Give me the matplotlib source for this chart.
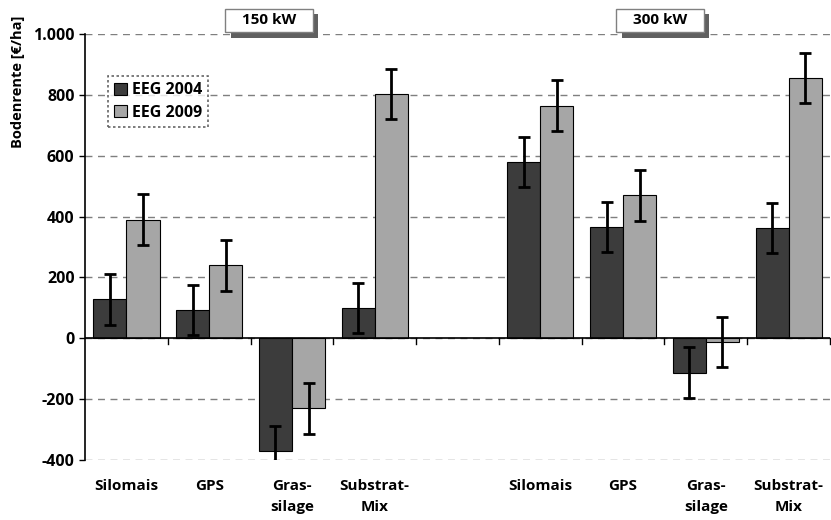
import matplotlib.pyplot as plt
from matplotlib.ticker import FuncFormatter, MultipleLocator
from matplotlib import patheffects as pe
import numpy as np

plt.rcParams['font.family'] = ['Open Sans', 'DejaVu Sans']
plt.rcParams['font.weight'] = 'bold'

categories = ["Silomais", "GPS", "Gras-\nsilage", "Substrat-\nMix"]
groups = ["150 kW", "300 kW"]
eeg2004 = [128, 93, -370, 100, 580, 365, -113, 362]
eeg2009 = [390, 240, -230, 803, 765, 470, -13, 855]
err2004 = [83, 83, 83, 83, 83, 83, 83, 83]
err2009 = [83, 83, 83, 83, 83, 83, 83, 83]

dark = '#3c3c3c'
light = '#a6a6a6'

fig = plt.figure(figsize=(8.31, 5.2), dpi=100)
ax = fig.add_axes([85 / 831, 1 - 460 / 520, 745 / 831, 426 / 520])

# 4 slots per group, one empty slot between the groups
slots = np.array([0, 1, 2, 3, 5, 6, 7, 8]) + 0.5
w = 0.4
ekw = dict(ecolor='black', elinewidth=2, capsize=4, capthick=2)
ax.bar(slots - w / 2, eeg2004, w, color=dark, edgecolor='black', linewidth=0.8,
       yerr=err2004, error_kw=ekw, label='EEG 2004', zorder=2)
ax.bar(slots + w / 2, eeg2009, w, color=light, edgecolor='black', linewidth=0.8,
       yerr=err2009, error_kw=ekw, label='EEG 2009', zorder=2)

ax.set_xlim(0, 9)
ax.set_ylim(-400, 1000)
ax.yaxis.set_major_locator(MultipleLocator(200))
ax.yaxis.set_major_formatter(FuncFormatter(lambda v, p: f"{int(v):,}".replace(",", ".")))
ax.yaxis.grid(True, color='#7f7f7f', linestyle=(0, (5, 4)), linewidth=1)
ax.set_axisbelow(True)
for s in ['top', 'right', 'bottom']:
    ax.spines[s].set_visible(False)
ax.spines['left'].set_linewidth(1.2)
ax.tick_params(axis='y', length=4, width=1, labelsize=11.5)
ax.set_ylabel("Bodenrente [€/ha]", fontsize=10.5, fontweight='bold')
ax.yaxis.set_label_coords(-0.08, 0.887)

# zero line with tick marks at slot boundaries
ax.axhline(0, color='black', linewidth=1.2, zorder=3)
ax.set_xticks(np.arange(1, 10))
ax.tick_params(axis='x', length=0, labelbottom=False)
trans = ax.get_xaxis_transform()
for b in range(1, 10):
    ax.plot([b, b], [0, -18], color='black', linewidth=1, clip_on=False, zorder=3)

for x, lab in zip(slots, categories * 2):
    ax.text(x, -0.045, lab, transform=trans, ha='center', va='top',
            fontsize=11, fontweight='bold', linespacing=1.6)

leg = ax.legend(loc='upper left', bbox_to_anchor=(0.02, 0.92), fancybox=False,
                handlelength=0.8, handleheight=0.8, handletextpad=0.3,
                borderpad=0.4, labelspacing=0.4, fontsize=11.5)
leg.get_frame().set_linestyle((0, (1.5, 1.5)))
leg.get_frame().set_edgecolor('#404040')
leg.get_frame().set_linewidth(1.2)

for xc, g in zip([269, 660], groups):
    t = fig.text(xc / 831, 1 - 20.5 / 520, "   " + g + "   ", ha='center', va='center',
                 fontsize=11, fontweight='bold',
                 bbox=dict(boxstyle='square,pad=0.3', fc='white', ec='#808080', lw=1))
    t.get_bbox_patch().set_path_effects([
        pe.SimplePatchShadow(offset=(4, -4), shadow_rgbFace='#606060', alpha=1),
        pe.Normal()])

fig.savefig("out.png", dpi=100)
